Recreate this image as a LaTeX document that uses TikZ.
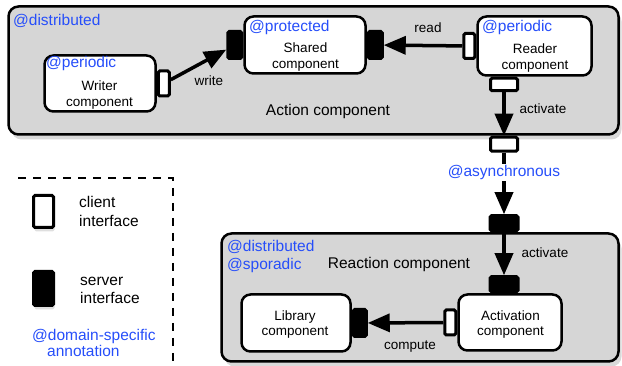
\documentclass[tikz,border=0pt]{standalone}
\usepackage{fontspec}
\setmainfont{Liberation Sans}
\usetikzlibrary{arrows.meta, positioning, shadows, calc}
\definecolor{annoblue}{RGB}{38,78,250}
\definecolor{boxgray}{RGB}{214,214,214}

\begin{document}
\begin{tikzpicture}[
    x=1pt, y=-1pt,
    group/.style={rectangle, draw, fill=boxgray, line width=2.5pt, rounded corners=10pt,
        drop shadow={shadow xshift=3pt, shadow yshift=-5pt, opacity=0.3}},
    comp/.style={rectangle, draw, fill=white, line width=2.5pt, rounded corners=9pt},
    port/.style={rectangle, draw, line width=3pt, rounded corners=1.5pt, inner sep=0pt},
    cli/.style={port, fill=white},
    srv/.style={port, fill=black},
    vcli/.style={minimum width=11pt, minimum height=25pt},
    vsrv/.style={minimum width=14pt, minimum height=27pt},
    hcli/.style={minimum width=27pt, minimum height=12.5pt},
    hsrv/.style={minimum width=28pt, minimum height=15pt},
    keyport/.style={minimum width=20pt, drop shadow={shadow xshift=1pt, shadow yshift=-4pt, opacity=0.25}},
    anno/.style={text=annoblue, inner sep=0pt, font=\fontsize{15.5}{18}\selectfont, align=left},
    txt/.style={inner sep=0pt, font=\fontsize{13.5}{15.5}\selectfont, align=center},
    big/.style={inner sep=0pt, font=\fontsize{15.5}{18}\selectfont, align=left},
    lbl/.style={inner sep=0pt, font=\fontsize{13.5}{15.5}\selectfont, anchor=base},
    arrow/.style={-{Triangle[length=22pt, width=18pt]}, line width=3.5pt},
    keyline/.style={dash pattern=on 8pt off 7pt, line width=2.5pt}
]
\useasboundingbox (0,0) rectangle (622,366);

\node[group, minimum width=610pt, minimum height=128pt] (action) at (313.5,70.5) {};
\node[group, minimum width=397pt, minimum height=128pt] (reaction) at (420,297.5) {};

\node[comp, minimum width=111pt, minimum height=56pt] (writer) at (100,83.5) {};
\node[comp, minimum width=121pt, minimum height=57pt] (shared) at (305,45) {};
\node[comp, minimum width=114pt, minimum height=59pt] (reader) at (534.5,46) {};
\node[comp, minimum width=109pt, minimum height=57pt] (library) at (296,323) {};
\node[comp, minimum width=103pt, minimum height=56pt] (activation) at (510,322.5) {};

\node[anno, anchor=base west] (actionanno) at (13,26) {@distributed};
\node[anno, anchor=base west] (writeranno) at (46,67.5) {@periodic};
\node[anno, anchor=base west] (sharedanno) at (249,31.5) {@protected};
\node[anno, anchor=base west] (readeranno) at (482,32) {@periodic};
\node[anno, anchor=north west] (reactionanno) at (227,239.7) {@distributed\\@sporadic};

\node[txt] (writertxt) at (99.5,95) {Writer\\component};
\node[txt] (sharedtxt) at (305.5,57) {Shared\\component};
\node[txt] (readertxt) at (535,58) {Reader\\component};
\node[txt] (librarytxt) at (295,324.5) {Library\\component};
\node[txt] (activationtxt) at (510.5,324.5) {Activation\\component};
\node[big, anchor=base] (actiontxt) at (328,116) {Action component};
\node[big, anchor=base] (reactiontxt) at (399,269) {Reaction component};

\node[cli, vcli, anchor=west] (writerreq) at (writer.east) {};
\node[srv, vsrv, anchor=east] (sharedwrite) at (shared.west) {};
\node[srv, vsrv, anchor=west] (sharedread) at (shared.east) {};
\node[cli, vcli, anchor=east] (readerreq) at (reader.west) {};
\node[cli, hcli, anchor=north] (readeract) at ($(reader.south)+(-30.5,0)$) {};
\node[cli, hcli, anchor=north, minimum height=14pt] (actionout) at (action.south -| readeract) {};
\node[srv, hsrv, anchor=south] (reactionin) at (reaction.north -| readeract) {};
\node[srv, hsrv, anchor=south] (activationin) at (activation.north -| readeract) {};
\node[cli, vcli, anchor=east] (activationreq) at (activation.west) {};
\node[srv, vsrv, anchor=west, minimum width=13pt] (libraryin) at (library.east) {};

\draw[arrow] (writerreq) -- (sharedwrite);
\draw[arrow] (readerreq) -- (sharedread);
\draw[arrow] (readeract) -- (actionout);
\draw[arrow] (actionout) -- node[anno, fill=white, inner sep=1pt, pos=0.32] (asynclbl) {@asynchronous} (reactionin);
\draw[arrow] (reactionin) -- (activationin);
\draw[arrow] (activationreq) -- (libraryin);

\node[lbl] (writelbl) at (209,86) {write};
\node[lbl] (readlbl) at (428,33) {read};
\node[lbl] (activatelbl) at (543,114) {activate};
\node[lbl] (activatelbl2) at (545,258) {activate};
\node[lbl] (computelbl) at (410,350) {compute};

\draw[keyline] (18,178) -| (173,366);
\node[cli, keyport, minimum height=32pt] (keycli) at (43.5,211.5) {};
\node[srv, keyport, minimum height=34pt] (keysrv) at (43.5,288.5) {};
\node[big, anchor=north west, font=\fontsize{15.5}{19}\selectfont] (keyclitxt) at (79,196.4) {client\\interface};
\node[big, anchor=north west, font=\fontsize{15.5}{17.7}\selectfont] (keysrvtxt) at (80,277) {server\\interface};
\node[anno, anchor=north west, font=\fontsize{15.5}{16.7}\selectfont] (keyanno) at (32,328.7) {@domain-specific\\\hspace*{15pt}annotation};

\end{tikzpicture}
\end{document}
